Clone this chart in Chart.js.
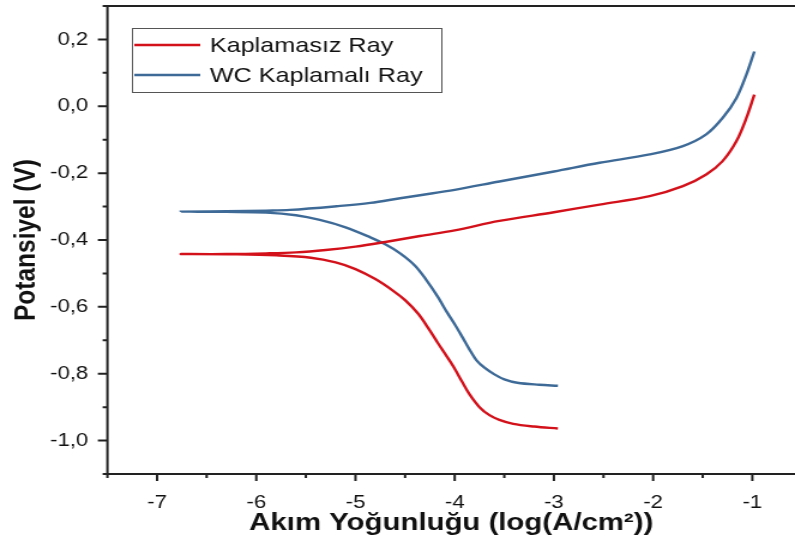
<!DOCTYPE html>
<html>
<head>
<meta charset="utf-8">
<script src="https://cdn.jsdelivr.net/npm/chart.js@4"></script>
<style>
  html, body { margin: 0; padding: 0; background: #fff; overflow: hidden; }
  /* the source figure is stretched sideways, so the canvas is too */
  #chart { display: block; transform: scaleX(1.1991); transform-origin: 0 0; }
</style>
</head>
<body>
<canvas id="chart" width="663" height="554"></canvas>
<script>
// curves are traced from the cathodic end, round the left tip, out along the anodic branch
const redX = [-2.96, -3.2, -3.41, -3.55, -3.65, -3.75, -3.85, -3.93, -4.0, -4.08, -4.17, -4.27, -4.37, -4.5, -4.62, -4.8, -5.0, -5.2, -5.45, -5.8, -6.2, -6.76,
  -6.3, -5.9, -5.6, -5.3, -5.0, -4.7, -4.35, -4.0, -3.55, -3.0, -2.54, -2.035, -1.7, -1.465, -1.3, -1.16, -1.06, -0.98];
const redY = [-0.964, -0.958, -0.950, -0.938, -0.924, -0.900, -0.862, -0.822, -0.785, -0.748, -0.708, -0.662, -0.620, -0.580, -0.552, -0.517, -0.487, -0.467, -0.453, -0.446, -0.443, -0.442,
  -0.442, -0.440, -0.437, -0.430, -0.420, -0.406, -0.388, -0.371, -0.343, -0.317, -0.294, -0.269, -0.239, -0.204, -0.164, -0.104, -0.035, 0.035];

const blueX = [-2.96, -3.15, -3.37, -3.5, -3.6, -3.7, -3.78, -3.85, -3.92, -4.0, -4.08, -4.17, -4.28, -4.4, -4.55, -4.7, -4.85, -5.1, -5.36, -5.6, -5.9, -6.3, -6.76,
  -6.3, -5.9, -5.66, -5.19, -4.85, -4.55, -4.35, -4.0, -3.55, -3.0, -2.54, -2.035, -1.7, -1.465, -1.3, -1.16, -1.06, -0.98];
const blueY = [-0.836, -0.833, -0.827, -0.817, -0.802, -0.782, -0.760, -0.728, -0.692, -0.652, -0.615, -0.570, -0.522, -0.477, -0.440, -0.413, -0.392, -0.362, -0.340, -0.326, -0.318, -0.316, -0.315,
  -0.314, -0.312, -0.310, -0.299, -0.289, -0.275, -0.266, -0.25, -0.225, -0.195, -0.169, -0.144, -0.119, -0.084, -0.035, 0.025, 0.095, 0.164];

const seriesNames = ["Kaplamasız Ray", "WC Kaplamalı Ray"];
const xTickValues = [-7, -6, -5, -4, -3, -2, -1];
const yTickValues = [0.2, 0, -0.2, -0.4, -0.6, -0.8, -1.0];

const FONT = "'Liberation Sans', Arial, sans-serif";
const INK = "#111";

function toPoints(xs, ys) {
  return xs.map((x, i) => ({ x: x, y: ys[i] }));
}

// box frame plus major / minor tick marks pointing outward
const frame = {
  id: "frame",
  afterDraw(chart) {
    const { ctx, chartArea: a, scales: { x, y } } = chart;
    ctx.save();
    ctx.strokeStyle = "#222";
    ctx.lineWidth = 2;
    ctx.beginPath();
    ctx.moveTo(a.left - 1, a.top);
    ctx.lineTo(a.right, a.top);
    ctx.moveTo(a.left, a.top);
    ctx.lineTo(a.left, a.bottom + 1);
    ctx.moveTo(a.left - 1, a.bottom);
    ctx.lineTo(a.right, a.bottom);

    for (let k = Math.ceil(x.min * 2 - 1e-6); k <= Math.floor(x.max * 2 + 1e-6); k++) {
      const px = x.getPixelForValue(k / 2);
      const len = Math.abs(k) % 2 === 0 ? 7 : 4;
      ctx.moveTo(px, a.bottom);
      ctx.lineTo(px, a.bottom + len);
    }
    for (let k = Math.ceil(y.min * 10 - 1e-6); k <= Math.floor(y.max * 10 + 1e-6); k++) {
      const py = y.getPixelForValue(k / 10);
      const len = Math.abs(k) % 2 === 0 ? 8 : 4;
      ctx.moveTo(a.left, py);
      ctx.lineTo(a.left - len, py);
    }
    ctx.stroke();
    ctx.restore();
  }
};

// boxed legend sitting inside the plot, top left
const boxLegend = {
  id: "boxLegend",
  afterDraw(chart) {
    const { ctx } = chart;
    const left = 110, top = 28, w = 258, h = 64;
    ctx.save();
    ctx.fillStyle = "#fff";
    ctx.fillRect(left, top, w, h);
    ctx.strokeStyle = "#555";
    ctx.lineWidth = 1;
    ctx.strokeRect(left + 0.5, top + 0.5, w, h);
    ctx.font = "21px " + FONT;
    ctx.textBaseline = "middle";
    chart.data.datasets.forEach((ds, i) => {
      const cy = top + 17 + i * 30;
      ctx.strokeStyle = ds.borderColor;
      ctx.lineWidth = 2.5;
      ctx.beginPath();
      ctx.moveTo(left + 2, cy);
      ctx.lineTo(left + 57, cy);
      ctx.stroke();
      ctx.fillStyle = INK;
      ctx.fillText(ds.label, left + 65, cy + 1);
    });
    ctx.restore();
  }
};

new Chart(document.getElementById("chart"), {
  type: "scatter",
  data: {
    datasets: [
      {
        label: seriesNames[0],
        data: toPoints(redX, redY),
        showLine: true,
        borderColor: "#d3111b",
        borderWidth: 2.4,
        pointRadius: 0,
        tension: 0.35
      },
      {
        label: seriesNames[1],
        data: toPoints(blueX, blueY),
        showLine: true,
        borderColor: "#3e6a97",
        borderWidth: 2.4,
        pointRadius: 0,
        tension: 0.35
      }
    ]
  },
  options: {
    responsive: false,
    animation: false,
    layout: { padding: { top: 6, right: 0, bottom: 0, left: 0 } },
    plugins: {
      legend: { display: false },
      tooltip: { enabled: false }
    },
    scales: {
      x: {
        type: "linear",
        min: -7.5,
        max: -0.57,
        afterBuildTicks: s => { s.ticks = xTickValues.map(v => ({ value: v })); },
        afterFit: s => {
          s.height = 80;
          s.paddingLeft = 0;
          s.paddingRight = 0;
        },
        grid: { display: false, drawTicks: false },
        border: { display: false },
        ticks: {
          autoSkip: false,
          maxRotation: 0,
          padding: 18,
          color: INK,
          font: { family: FONT, size: 18.5 },
          callback: v => String(v)
        },
        title: {
          display: true,
          text: "Akım Yoğunluğu (log(A/cm²))",
          color: INK,
          font: { family: FONT, size: 24.5, weight: "bold" },
          padding: { top: 0, bottom: 16 }
        }
      },
      y: {
        type: "linear",
        min: -1.1,
        max: 0.3,
        afterBuildTicks: s => { s.ticks = yTickValues.map(v => ({ value: v })); },
        afterFit: s => {
          s.width = 89.6;
          s.paddingTop = 0;
          s.paddingBottom = 0;
        },
        grid: { display: false, drawTicks: false },
        border: { display: false },
        ticks: {
          autoSkip: false,
          padding: 16,
          color: INK,
          font: { family: FONT, size: 18.5 },
          callback: v => v.toFixed(1).replace(".", ",")
        },
        title: {
          display: true,
          text: "Potansiyel (V)",
          color: INK,
          font: { family: FONT, size: 24.5, weight: "bold" },
          padding: { top: 8, bottom: 0 }
        }
      }
    }
  },
  plugins: [frame, boxLegend]
});
</script>
</body>
</html>
